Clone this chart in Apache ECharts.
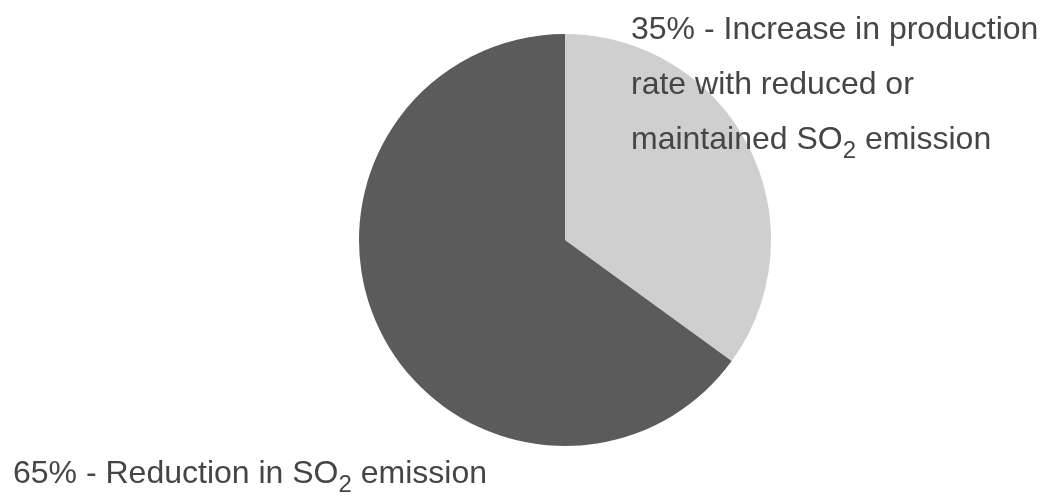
<!DOCTYPE html>
<html>
<head>
<meta charset="utf-8">
<script src="https://cdn.jsdelivr.net/npm/echarts@6/dist/echarts.min.js"></script>
<style>
  html, body { margin: 0; padding: 0; background: #ffffff; }
  #chart { width: 1046px; height: 496px; }
</style>
</head>
<body>
<div id="chart"></div>
<script>
// Outcome shares of the plant modifications (percent)
const categories = [
  'Increase in production rate with reduced or maintained SO2 emission',
  'Reduction in SO2 emission'
];
const shares = [35, 65];

// Label text, one entry per line; {sub|2} renders the subscript
const labelLines = [
  ['Increase in production', 'rate with reduced or', 'maintained SO{sub|2} emission'],
  ['Reduction in SO{sub|2} emission']
];

const sliceColors = ['#cfcfcf', '#5b5b5b'];
const labelAnchors = [[631, 3], [13, 447]];
const FONT = '"Liberation Sans", Arial, Helvetica, sans-serif';
const TEXT_COLOR = '#454545';

const chart = echarts.init(document.getElementById('chart'), null, { renderer: 'canvas' });

chart.setOption({
  animation: false,
  backgroundColor: '#ffffff',
  series: [{
    type: 'pie',
    center: [565, 240],
    radius: 206,
    startAngle: 90,
    clockwise: true,
    avoidLabelOverlap: false,
    data: categories.map((name, i) => ({
      name: name,
      value: shares[i],
      itemStyle: { color: sliceColors[i], borderWidth: 0 }
    })),
    label: {
      show: true,
      position: 'inside',
      formatter: (p) => {
        const lines = labelLines[p.dataIndex].slice();
        lines[0] = p.value + '% - ' + lines[0];
        return lines.join('\n');
      },
      color: TEXT_COLOR,
      fontFamily: FONT,
      fontSize: 32,
      lineHeight: 55,
      align: 'left',
      rich: {
        sub: {
          color: TEXT_COLOR,
          fontFamily: FONT,
          fontSize: 24,
          lineHeight: 24,
          padding: [22, 0, 0, 0]
        }
      }
    },
    labelLine: { show: false },
    labelLayout: (p) => ({
      x: labelAnchors[p.dataIndex][0],
      y: labelAnchors[p.dataIndex][1],
      align: 'left',
      verticalAlign: 'top'
    }),
    emphasis: { disabled: true }
  }]
});
</script>
</body>
</html>
